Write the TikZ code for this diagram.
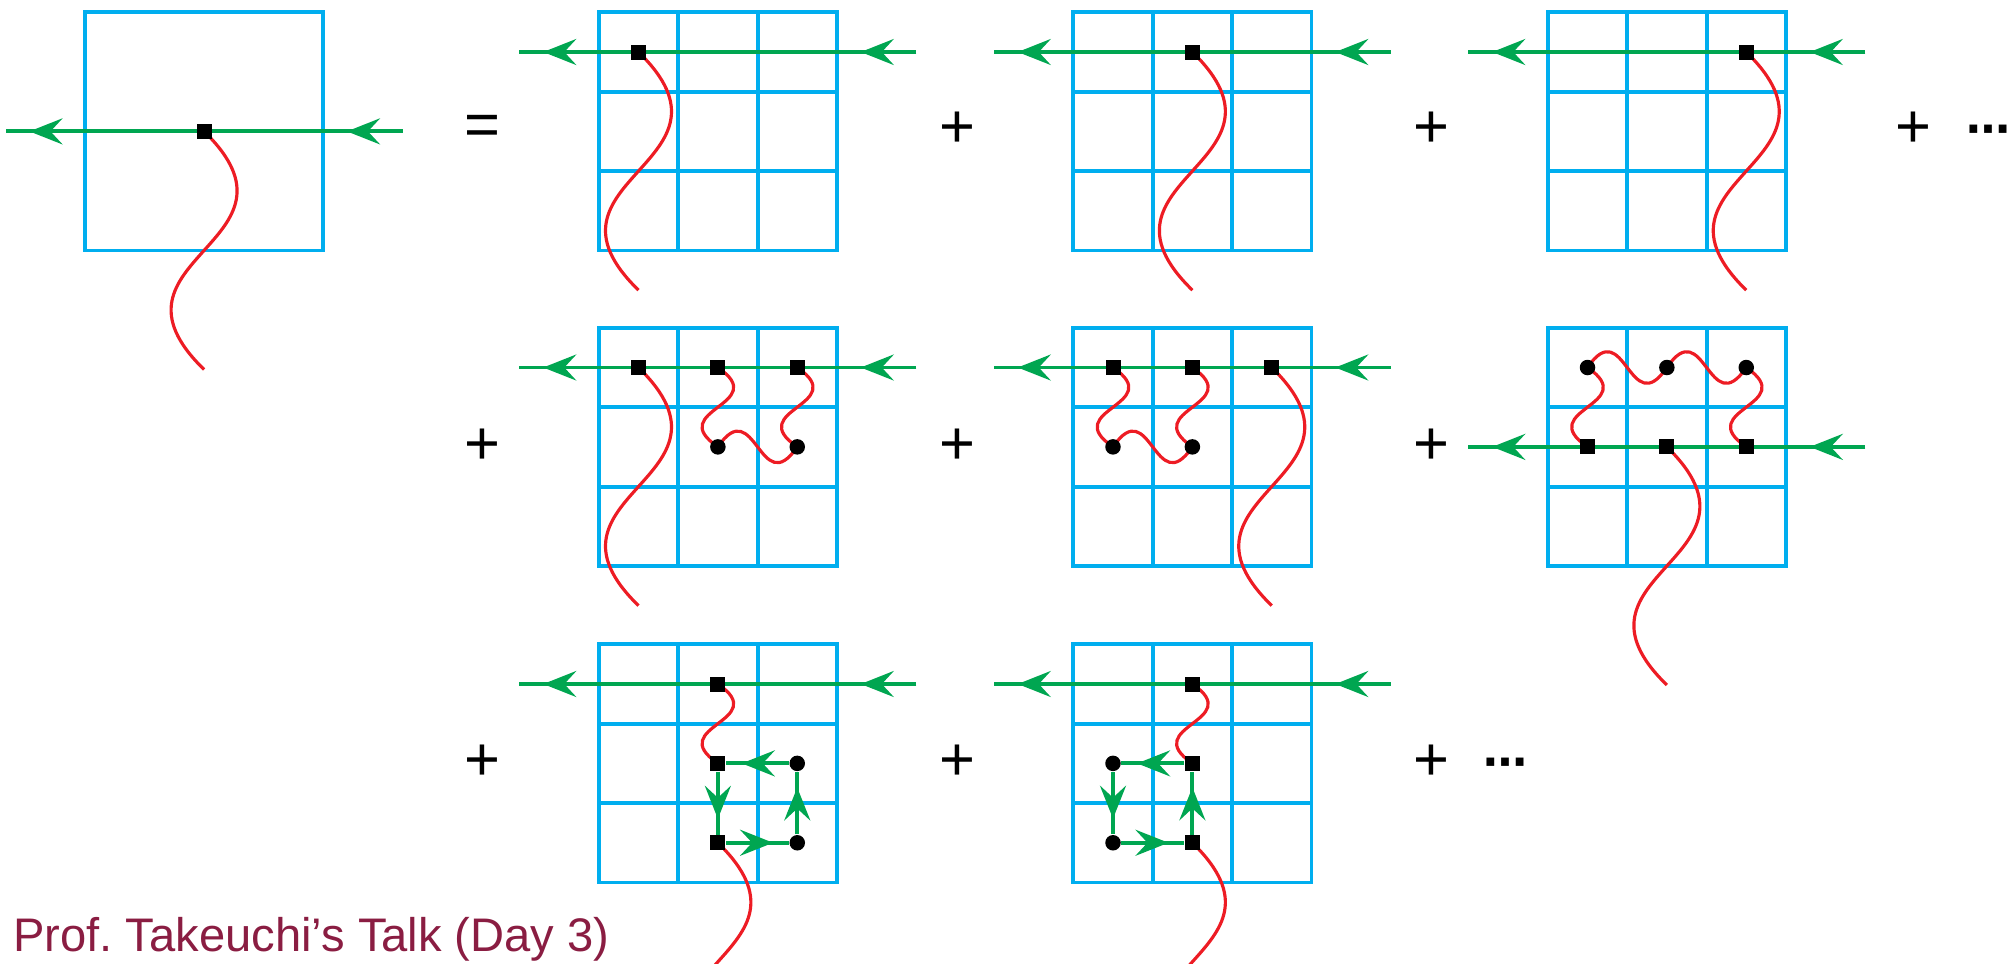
\documentclass[tikz,border=0pt]{standalone}
\usepackage{fontspec}
\setmainfont{Liberation Sans}
\newfontfamily\dejavu{DejaVu Sans}
\usetikzlibrary{arrows.meta, decorations.markings}
\definecolor{gridblue}{RGB}{0,174,239}
\definecolor{linegreen}{RGB}{0,166,81}
\definecolor{wavered}{RGB}{237,28,36}
\definecolor{talkred}{RGB}{138,29,66}
\pgfdeclarelayer{bg}
\pgfsetlayers{bg,main}
\tikzset{gtip/.tip={Stealth[length=3.3mm, width=2.6mm, inset=1.2mm]}}
\newcommand{\drawlattice}{%
  \begin{pgfonlayer}{bg}
    \draw[gridline] (-0.5,-0.5) rectangle (2.5,2.5);
    \foreach \k in {0.5,1.5}
      \draw[gridline] (\k,-0.5) -- (\k,2.5) (-0.5,\k) -- (2.5,\k);
  \end{pgfonlayer}}
\newcommand{\wigdown}[2]{\draw[wave] (#1.center) .. controls +(0.69,0.47) and +(-0.69,-0.47) .. (#2.center);}
\newcommand{\wigright}[2]{\draw[wave] (#1.center) .. controls +(0.47,-0.69) and +(-0.47,0.69) .. (#2.center);}
\newcommand{\tailwave}[2]{\draw[wave] (#1.center) .. controls +(1.44,1.4) and +(-1.44,-1.4) .. (#2);}

\begin{document}
\begin{tikzpicture}[
  x=0.01cm, y=-0.01cm,
  cellunits/.style={x=0.7933cm, y=-0.7933cm},
  gridline/.style={gridblue, line width=1.1pt},
  gline/.style={linegreen, line width=1.1pt, postaction={decorate},
    decoration={markings,
      mark=at position 0.14 with {\arrow{gtip}},
      mark=at position 0.94 with {\arrow{gtip}}}},
  garr/.style={linegreen, line width=1.1pt, postaction={decorate},
    decoration={markings, mark=at position 0.75 with {\arrow{gtip}}}},
  wave/.style={wavered, line width=0.9pt},
  sqnode/.style={fill=black, minimum size=1.5mm, inner sep=0pt},
  dotnode/.style={circle, fill=black, minimum size=1.55mm, inner sep=0pt},
  op/.style={font=\fontsize{17.5}{20}\selectfont, inner sep=0pt},
  more/.style={font=\dejavu\bfseries\fontsize{12.5}{14}\selectfont, inner sep=0pt}
]
\useasboundingbox (0,0) rectangle (2011,963);

\begin{scope}[shift={(124.7,52)}, cellunits]
  \begin{pgfonlayer}{bg}
    \draw[gridline] (-0.5,-0.5) rectangle (2.5,2.5);
  \end{pgfonlayer}
  \node[sqnode] (L11) at (1,1) {};
  \coordinate (Lr) at (3.5,1);
  \coordinate (Ll) at (-1.5,1);
  \coordinate (Lt) at (1,4);
  \begin{pgfonlayer}{bg}
    \draw[gline] (Lr) -- (Ll);
    \tailwave{L11}{Lt}
  \end{pgfonlayer}
\end{scope}

\begin{scope}[shift={(638.5,52)}, cellunits]
  \drawlattice
  \node[sqnode] (A00) at (0,0) {};
  \coordinate (Ar) at (3.5,0);
  \coordinate (Al) at (-1.5,0);
  \coordinate (At) at (0,3);
  \begin{pgfonlayer}{bg}
    \draw[gline] (Ar) -- (Al);
    \tailwave{A00}{At}
  \end{pgfonlayer}
\end{scope}

\begin{scope}[shift={(1113,52)}, cellunits]
  \drawlattice
  \node[sqnode] (B10) at (1,0) {};
  \coordinate (Br) at (3.5,0);
  \coordinate (Bl) at (-1.5,0);
  \coordinate (Bt) at (1,3);
  \begin{pgfonlayer}{bg}
    \draw[gline] (Br) -- (Bl);
    \tailwave{B10}{Bt}
  \end{pgfonlayer}
\end{scope}

\begin{scope}[shift={(1587.5,52)}, cellunits]
  \drawlattice
  \node[sqnode] (C20) at (2,0) {};
  \coordinate (Cr) at (3.5,0);
  \coordinate (Cl) at (-1.5,0);
  \coordinate (Ct) at (2,3);
  \begin{pgfonlayer}{bg}
    \draw[gline] (Cr) -- (Cl);
    \tailwave{C20}{Ct}
  \end{pgfonlayer}
\end{scope}

\begin{scope}[shift={(638.5,367.5)}, cellunits]
  \drawlattice
  \foreach \i in {0,1,2} \node[sqnode] (D\i0) at (\i,0) {};
  \node[dotnode] (D11) at (1,1) {};
  \node[dotnode] (D21) at (2,1) {};
  \coordinate (Dr) at (3.5,0);
  \coordinate (Dl) at (-1.5,0);
  \coordinate (Dt) at (0,3);
  \begin{pgfonlayer}{bg}
    \draw[gline] (Dr) -- (Dl);
    \tailwave{D00}{Dt}
    \wigdown{D10}{D11}
    \wigright{D11}{D21}
    \wigdown{D20}{D21}
  \end{pgfonlayer}
\end{scope}

\begin{scope}[shift={(1113,367.5)}, cellunits]
  \drawlattice
  \foreach \i in {0,1,2} \node[sqnode] (E\i0) at (\i,0) {};
  \node[dotnode] (E01) at (0,1) {};
  \node[dotnode] (E11) at (1,1) {};
  \coordinate (Er) at (3.5,0);
  \coordinate (El) at (-1.5,0);
  \coordinate (Et) at (2,3);
  \begin{pgfonlayer}{bg}
    \draw[gline] (Er) -- (El);
    \tailwave{E20}{Et}
    \wigdown{E00}{E01}
    \wigright{E01}{E11}
    \wigdown{E10}{E11}
  \end{pgfonlayer}
\end{scope}

\begin{scope}[shift={(1587.5,367.5)}, cellunits]
  \drawlattice
  \foreach \i in {0,1,2} {
    \node[dotnode] (F\i0) at (\i,0) {};
    \node[sqnode] (F\i1) at (\i,1) {};
  }
  \coordinate (Fr) at (3.5,1);
  \coordinate (Fl) at (-1.5,1);
  \coordinate (Ft) at (1,4);
  \begin{pgfonlayer}{bg}
    \draw[gline] (Fr) -- (Fl);
    \tailwave{F11}{Ft}
    \wigright{F00}{F10}
    \wigright{F10}{F20}
    \wigdown{F00}{F01}
    \wigdown{F20}{F21}
  \end{pgfonlayer}
\end{scope}

\begin{scope}[shift={(638.5,684)}, cellunits]
  \drawlattice
  \foreach \j in {0,1,2} \node[sqnode] (G1\j) at (1,\j) {};
  \node[dotnode] (G21) at (2,1) {};
  \node[dotnode] (G22) at (2,2) {};
  \coordinate (Gr) at (3.5,0);
  \coordinate (Gl) at (-1.5,0);
  \coordinate (Gt) at (1,5);
  \begin{pgfonlayer}{bg}
    \draw[gline] (Gr) -- (Gl);
    \tailwave{G12}{Gt}
    \wigdown{G10}{G11}
    \draw[garr] (G21) -- (G11);
    \draw[garr] (G11) -- (G12);
    \draw[garr] (G12) -- (G22);
    \draw[garr] (G22) -- (G21);
  \end{pgfonlayer}
\end{scope}

\begin{scope}[shift={(1113,684)}, cellunits]
  \drawlattice
  \foreach \j in {0,1,2} \node[sqnode] (H1\j) at (1,\j) {};
  \node[dotnode] (H01) at (0,1) {};
  \node[dotnode] (H02) at (0,2) {};
  \coordinate (Hr) at (3.5,0);
  \coordinate (Hl) at (-1.5,0);
  \coordinate (Ht) at (1,5);
  \begin{pgfonlayer}{bg}
    \draw[gline] (Hr) -- (Hl);
    \tailwave{H12}{Ht}
    \wigdown{H10}{H11}
    \draw[garr] (H11) -- (H01);
    \draw[garr] (H01) -- (H02);
    \draw[garr] (H02) -- (H12);
    \draw[garr] (H12) -- (H11);
  \end{pgfonlayer}
\end{scope}

\node[op] (eq) at (482,130) {=};
\node[op] (plusA) at (957,130) {+};
\node[op] (plusB) at (1431,130) {+};
\node[op] (plusC) at (1913.5,130) {+};
\node[more] (moreA) at (1988.5,135) {⋯};
\node[op] (plusD) at (482,447) {+};
\node[op] (plusE) at (957,447) {+};
\node[op] (plusF) at (1431,447) {+};
\node[op] (plusG) at (482,763) {+};
\node[op] (plusH) at (957,763) {+};
\node[op] (plusI) at (1431,763) {+};
\node[more] (moreB) at (1505,768) {⋯};
\node[anchor=base west, inner sep=0pt, text=talkred, font=\fontsize{13.4}{15}\selectfont] (talk) at (12.5,951) {Prof.\ Takeuchi’s Talk (Day 3)};
\end{tikzpicture}
\end{document}
